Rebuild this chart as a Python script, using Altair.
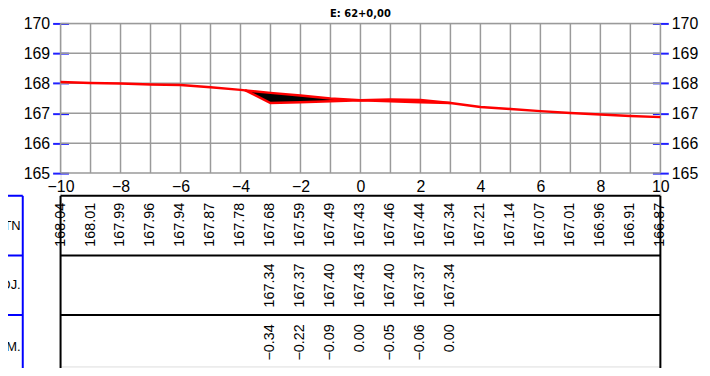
import altair as alt
import pandas as pd

# ---------------- data ----------------
stations = [-10, -9, -8, -7, -6, -5, -4, -3, -2, -1, 0, 1, 2, 3, 4, 5, 6, 7, 8, 9, 10]
tn = [168.04, 168.01, 167.99, 167.96, 167.94, 167.87, 167.78, 167.68, 167.59, 167.49,
      167.43, 167.46, 167.44, 167.34, 167.21, 167.14, 167.07, 167.01, 166.96, 166.91, 166.87]

proj_x = [-3, -2, -1, 0, 1, 2, 3]
proj = [167.34, 167.37, 167.40, 167.43, 167.40, 167.37, 167.34]
term = [-0.34, -0.22, -0.09, 0.00, -0.05, -0.06, 0.00]

# section outline (daylight point of the left slope, then the platform)
outline_x = [-3.85, -3, -2, -1, 0, 1, 2, 3]
outline_proj = [167.77, 167.34, 167.37, 167.40, 167.43, 167.40, 167.37, 167.34]
outline_tn = [167.77, 167.68, 167.59, 167.49, 167.43, 167.46, 167.44, 167.34]

x_ticks = [-10, -8, -6, -4, -2, 0, 2, 4, 6, 8, 10]
y_ticks = [165, 166, 167, 168, 169, 170]
grid_x = list(range(-10, 11))

row_names = ["TN", "PROJ.", "TERM."]
row_top = [164.24, 162.25, 160.26]
row_mid = [163.24, 161.25, 159.20]
row_text = [164.01, 161.98, 159.95]
table_bottom = 158.28

title_text = "E: 62+0,00"

# ---------------- chart ----------------
W, H = 605, 346
YMIN, YMAX = 158.54, 170
FONT = "Liberation Sans, Arial, sans-serif"
FS = 14.5
xs = alt.Scale(domain=[-10, 10], nice=False, zero=False)
ys = alt.Scale(domain=[YMIN, YMAX], nice=False, zero=False)
px165 = H - (165 - YMIN) / (YMAX - YMIN) * H

vgrid = alt.Chart(pd.DataFrame({"x": grid_x, "y": 165, "y2": 170})).mark_rule(
    color="#9a9a9a", strokeWidth=1.5
).encode(
    x=alt.X("x:Q", scale=xs, axis=alt.Axis(
        orient="bottom", values=x_ticks, offset=-(H - px165), domain=False, grid=False,
        ticks=False, tickSize=0, labelPadding=6, labelFont=FONT, labelFontSize=16,
        labelColor="black", title=None, labelFlush=False)),
    y=alt.Y("y:Q", scale=ys, axis=None),
    y2="y2",
)

hgrid = alt.Chart(pd.DataFrame({"y": y_ticks, "x": -10, "x2": 10})).mark_rule(
    color="#9a9a9a", strokeWidth=1.5
).encode(
    y=alt.Y("y:Q", scale=ys, axis=alt.Axis(
        orient="left", values=y_ticks, domain=False, grid=False, ticks=True,
        tickColor="#2020ff", tickSize=16, tickWidth=2, offset=-8, labelFont=FONT,
        labelFontSize=16, labelColor="black", labelPadding=3, title=None)),
    x=alt.X("x:Q", scale=xs, axis=None),
    x2="x2",
)

df_out = pd.DataFrame({"x": outline_x, "proj": outline_proj, "tn": outline_tn})
fill = alt.Chart(df_out).mark_area(color="black", opacity=1).encode(
    x=alt.X("x:Q", scale=xs, axis=None),
    y=alt.Y("proj:Q", scale=ys, axis=None),
    y2="tn",
)
proj_line = alt.Chart(df_out).mark_line(color="#ff0000", strokeWidth=2.5).encode(
    x=alt.X("x:Q", scale=xs, axis=None),
    y=alt.Y("proj:Q", scale=ys, axis=None),
)

df_tn = pd.DataFrame({"x": stations, "tn": tn})
tn_line = alt.Chart(df_tn).mark_line(color="#ff0000", strokeWidth=2.5).encode(
    x=alt.X("x:Q", scale=xs, axis=None),
    y=alt.Y("tn:Q", scale=ys, axis=alt.Axis(
        orient="right", values=y_ticks, domain=False, grid=False, ticks=True,
        tickColor="#2020ff", tickSize=16, tickWidth=2, offset=-8, labelFont=FONT,
        labelFontSize=16, labelColor="black", labelPadding=3, title=None)),
)

# table frame
t_h = alt.Chart(pd.DataFrame({"y": row_top, "x": -10, "x2": 10})).mark_rule(
    color="black", strokeWidth=2).encode(
    y=alt.Y("y:Q", scale=ys, axis=None), x=alt.X("x:Q", scale=xs, axis=None), x2="x2")
t_v = alt.Chart(pd.DataFrame({"x": [-10, 10], "y": row_top[0], "y2": table_bottom})).mark_rule(
    color="black", strokeWidth=2).encode(
    x=alt.X("x:Q", scale=xs, axis=None), y=alt.Y("y:Q", scale=ys, axis=None), y2="y2")
b_h = alt.Chart(pd.DataFrame({"y": row_top, "x": -12.5, "x2": -11.26})).mark_rule(
    color="#0000ff", strokeWidth=2).encode(
    y=alt.Y("y:Q", scale=ys, axis=None), x=alt.X("x:Q", scale=xs, axis=None), x2="x2")
b_v = alt.Chart(pd.DataFrame({"x": [-11.26], "y": row_top[0], "y2": table_bottom})).mark_rule(
    color="#0000ff", strokeWidth=2).encode(
    x=alt.X("x:Q", scale=xs, axis=None), y=alt.Y("y:Q", scale=ys, axis=None), y2="y2")

labels = alt.Chart(pd.DataFrame({"name": row_names, "y": row_mid, "x": -11.33})).mark_text(
    align="right", baseline="middle", font=FONT, fontSize=13, color="black").encode(
    x=alt.X("x:Q", scale=xs, axis=None), y=alt.Y("y:Q", scale=ys, axis=None), text="name:N")


def value_row(xv, vals, ypos):
    return alt.Chart(pd.DataFrame({"x": xv, "v": vals, "y": ypos})).mark_text(
        angle=270, align="right", baseline="middle", font=FONT, fontSize=FS, color="black"
    ).encode(
        x=alt.X("x:Q", scale=xs, axis=None),
        y=alt.Y("y:Q", scale=ys, axis=None),
        text=alt.Text("v:Q", format=".2f"),
    )


r_tn = value_row(stations, tn, row_text[0])
r_proj = value_row(proj_x, proj, row_text[1])
r_term = value_row(proj_x, term, row_text[2])

chart = alt.layer(
    vgrid, hgrid, fill, tn_line, proj_line, t_h, t_v, b_h, b_v, labels, r_tn, r_proj, r_term
).resolve_axis(y="independent", x="independent").properties(
    width=W, height=H,
    autosize=alt.AutoSizeParams(type="none"),
    padding={"left": 53, "top": 14, "right": 42, "bottom": 0},
    title=alt.TitleParams(title_text, fontSize=10, fontWeight="bold", font="DejaVu Sans",
                          anchor="middle", frame="group", offset=-4, color="black"),
).configure_view(stroke=None).configure(background="white")

chart.save("out.html", embed_options={"renderer": "svg", "actions": False})
